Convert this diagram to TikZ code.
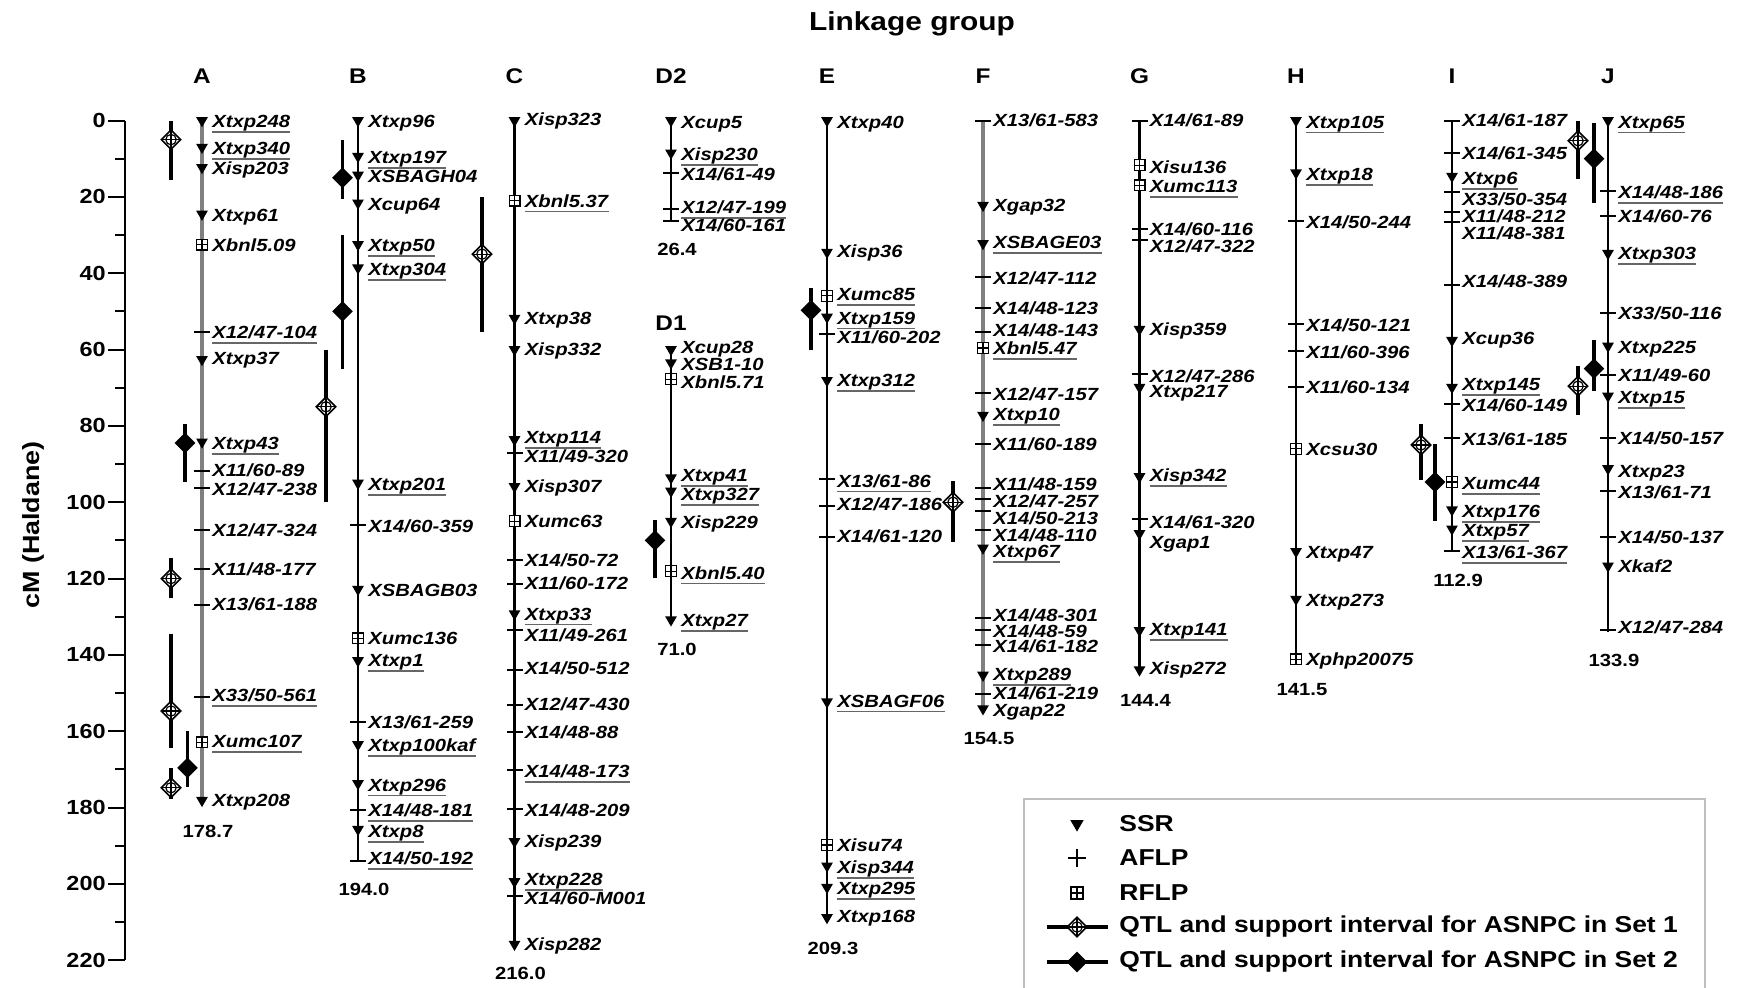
\documentclass[tikz,border=0pt]{standalone}
\usepackage{fontspec}
\setmainfont{Liberation Sans}[FakeStretch=1.15]
\usetikzlibrary{positioning, shapes.geometric}

\tikzset{
  chrom/.style={line width=1.4pt, black},
  chromgray/.style={line width=2.2pt, black!50},
  axis/.style={line width=1pt, black},
  ssr/.style={regular polygon, regular polygon sides=3, shape border rotate=180, fill=black, inner sep=0pt, minimum size=6.8pt},
  aflp/.style={rectangle, fill=black, inner sep=0pt, minimum width=8pt, minimum height=1pt},
  rflp/.style={rectangle, draw=black, fill=white, line width=0.6pt, inner sep=0pt, minimum size=5.4pt,
    path picture={\draw[black, line width=0.6pt] (path picture bounding box.north) -- (path picture bounding box.south)
      (path picture bounding box.west) -- (path picture bounding box.east);}},
  mk/.style={anchor=west, inner sep=0pt, font=\fontsize{8.8}{9}\selectfont\bfseries\itshape, text height=0.72em, text depth=0.2em},
  uline/.style={line width=0.9pt, black!60},
  endlbl/.style={inner sep=0pt, font=\fontsize{8.8}{9}\selectfont\bfseries},
  grp/.style={inner sep=0pt, font=\fontsize{10.6}{11}\selectfont\bfseries},
  ticklbl/.style={anchor=east, inner sep=0pt, font=\fontsize{10.2}{11}\selectfont\bfseries},
  keytxt/.style={anchor=west, inner sep=0pt, font=\fontsize{11.5}{12}\selectfont\bfseries},
  qline/.style={line width=1.6pt, black},
  qone/.style={diamond, draw=black, line width=0.8pt, fill=white, inner sep=0pt, minimum size=10pt,
    path picture={
      \draw[line width=0.6pt] (path picture bounding box.center) circle (2.6pt);
      \draw[line width=0.6pt] (path picture bounding box.west) -- (path picture bounding box.east)
        (path picture bounding box.north) -- (path picture bounding box.south);}},
  qtwo/.style={diamond, fill=black, inner sep=0pt, minimum size=10.5pt},
}

\begin{document}
\begin{tikzpicture}[x=0.5pt, y=-0.5pt]
    \path[use as bounding box, fill=white] (0,0) rectangle (1750,987);

    % Title and axis label
    \node[font=\fontsize{13}{14}\selectfont\bfseries] (title) at (912,24) {Linkage group};
    \node[font=\fontsize{11.7}{12}\selectfont\bfseries, rotate=90] (ylab) at (33,525) {cM (Haldane)};

    % Axis
    \begin{scope}[shift={(125,120.5)}, y={(0,-1.9085pt)}]
        \coordinate (ax-top) at (0,0);
        \coordinate (ax-bot) at (0,220);
        \draw[axis] (ax-top) -- (ax-bot);
        \foreach \t in {10,30,...,210} \draw[axis] (0,\t) -- (-10,\t);
        \foreach \t in {0,20,...,220} {
            \draw[axis] (0,\t) -- (-17,\t);
            \node[ticklbl] (tick-\t) at (-19,\t) {\t};
        }
    \end{scope}

    % Group A
    \begin{scope}[shift={(202,120.5)}, y={(0,-1.9085pt)}]
        \coordinate (A-top) at (0,0);
        \coordinate (A-end) at (0,178.7);
        \node[grp, above=18.4pt of A-top] (A) {A};
        \draw[chromgray] (A-top) -- (A-end);
        \node[endlbl, below=11pt of A-end, xshift=3pt] (A-len) {178.7};
        \foreach \pos/\lab/\kind/\mname/\ul [count=\i] in {
            0/0.5/ssr/Xtxp248/1, 7/7.6/ssr/Xtxp340/1, 12.3/12.9/ssr/Xisp203/0,
            24.5/25.1/ssr/Xtxp61/0, 32.5/33/rflp/{Xbnl5.09}/0, 55.3/55.8/aflp/{X12/47-104}/1,
            62.6/62.6/ssr/Xtxp37/0, 84.2/84.8/ssr/Xtxp43/1, 91.8/91.8/aflp/{X11/60-89}/0,
            96.2/96.8/aflp/{X12/47-238}/0, 107.3/107.6/aflp/{X12/47-324}/0, 117.5/117.8/aflp/{X11/48-177}/0,
            126.9/126.9/aflp/{X13/61-188}/0, 150.9/150.9/aflp/{X33/50-561}/1, 162.9/162.9/rflp/Xumc107/1,
            178.1/178.4/ssr/Xtxp208/0}{
            \node[\kind] (A-m\i) at (0,\pos) {};
            \node[mk] (A-\i) at (10,\lab) {\mname};
            \ifnum\ul=1 \draw[uline] (A-\i.south west) -- (A-\i.south east); \fi
        }
        \foreach \x/\c/\lo/\hi/\s [count=\i] in {-31/5/0/15.5/qone, -17/84.5/79.5/94.7/qtwo,
            -31/120/114.6/125/qone, -31/154.7/134.5/164.3/qone, -14.5/169.6/160/174.6/qtwo,
            -31/174.8/169.6/177.8/qone}{
            \coordinate (A-lo\i) at (\x,\lo);
            \coordinate (A-hi\i) at (\x,\hi);
            \draw[qline] (A-lo\i) -- (A-hi\i);
            \node[\s] (A-q\i) at (\x,\c) {};
        }
    \end{scope}

    % Group B
    \begin{scope}[shift={(358,120.5)}, y={(0,-1.9085pt)}]
        \coordinate (B-top) at (0,0);
        \coordinate (B-end) at (0,194);
        \node[grp, above=18.4pt of B-top] (B) {B};
        \draw[chrom] (B-top) -- (B-end);
        \node[endlbl, below=11pt of B-end, xshift=3pt] (B-len) {194.0};
        \foreach \pos/\lab/\kind/\mname/\ul [count=\i] in {
            0/0.5/ssr/Xtxp96/0, 9.4/10/ssr/Xtxp197/1, 14.3/14.9/ssr/XSBAGH04/0,
            21.6/22.2/ssr/Xcup64/0, 32.5/33/ssr/Xtxp50/1, 38.6/39.2/ssr/Xtxp304/1,
            95/95.6/ssr/Xtxp201/1, 106.1/106.7/aflp/{X14/60-359}/0, 122.8/123.4/ssr/XSBAGB03/0,
            135.7/136/rflp/Xumc136/0, 141.5/141.8/ssr/Xtxp1/1, 157.6/157.9/aflp/{X13/61-259}/0,
            163.5/164/ssr/Xtxp100kaf/1, 173.7/174.3/ssr/Xtxp296/1, 180.7/181/aflp/{X14/48-181}/1,
            185.7/186.5/ssr/Xtxp8/1, 193.9/193.6/aflp/{X14/50-192}/1}{
            \node[\kind] (B-m\i) at (0,\pos) {};
            \node[mk] (B-\i) at (10,\lab) {\mname};
            \ifnum\ul=1 \draw[uline] (B-\i.south west) -- (B-\i.south east); \fi
        }
        \foreach \x/\c/\lo/\hi/\s [count=\i] in {-32/75/60/100/qone, -15.5/15/5/20.5/qtwo,
            -15.5/50/30/65/qtwo}{
            \coordinate (B-lo\i) at (\x,\lo);
            \coordinate (B-hi\i) at (\x,\hi);
            \draw[qline] (B-lo\i) -- (B-hi\i);
            \node[\s] (B-q\i) at (\x,\c) {};
        }
    \end{scope}

    % Group C
    \begin{scope}[shift={(514.5,120.5)}, y={(0,-1.9085pt)}]
        \coordinate (C-top) at (0,0);
        \coordinate (C-end) at (0,216);
        \node[grp, above=18.4pt of C-top] (C) {C};
        \draw[chrom] (C-top) -- (C-end);
        \node[endlbl, below=11pt of C-end, xshift=3pt] (C-len) {216.0};
        \foreach \pos/\lab/\kind/\mname/\ul [count=\i] in {
            0/0/ssr/Xisp323/0, 21/21.3/rflp/{Xbnl5.37}/1, 51.8/52/ssr/Xtxp38/0,
            60/60.2/ssr/Xisp332/0, 83.6/83.3/ssr/Xtxp114/1, 87.1/88.3/aflp/{X11/49-320}/0,
            95.9/96.2/ssr/Xisp307/0, 105/105.3/rflp/Xumc63/0, 115.2/115.5/aflp/{X14/50-72}/0,
            121.3/121.6/aflp/{X11/60-172}/0, 129.2/129.5/ssr/Xtxp33/1, 133.6/135.1/aflp/{X11/49-261}/0,
            143.9/143.9/aflp/{X14/50-512}/0, 153.2/153.2/aflp/{X12/47-430}/0, 160.2/160.5/aflp/{X14/48-88}/0,
            170.2/170.8/aflp/{X14/48-173}/1, 180.4/181/aflp/{X14/48-209}/0, 188.9/189.2/ssr/Xisp239/0,
            199.4/199.1/ssr/Xtxp228/1, 203.2/204.1/aflp/{X14/60-M001}/0, 215.8/216.1/ssr/Xisp282/0}{
            \node[\kind] (C-m\i) at (0,\pos) {};
            \node[mk] (C-\i) at (10,\lab) {\mname};
            \ifnum\ul=1 \draw[uline] (C-\i.south west) -- (C-\i.south east); \fi
        }
        \foreach \x/\c/\lo/\hi/\s [count=\i] in {-32.5/35/20/55.3/qone}{
            \coordinate (C-lo\i) at (\x,\lo);
            \coordinate (C-hi\i) at (\x,\hi);
            \draw[qline] (C-lo\i) -- (C-hi\i);
            \node[\s] (C-q\i) at (\x,\c) {};
        }
    \end{scope}

    % Group D2
    \begin{scope}[shift={(671,120.5)}, y={(0,-1.9085pt)}]
        \coordinate (D2-top) at (0,0);
        \coordinate (D2-end) at (0,26.4);
        \node[grp, above=18.4pt of D2-top] (D2) {D2};
        \draw[chrom] (D2-top) -- (D2-end);
        \node[endlbl, below=11pt of D2-end, xshift=3pt] (D2-len) {26.4};
        \foreach \pos/\lab/\kind/\mname/\ul [count=\i] in {
            0/0.6/ssr/Xcup5/0, 8.5/9.1/ssr/Xisp230/1, 13.7/14.3/aflp/{X14/61-49}/0,
            23.1/23.1/aflp/{X12/47-199}/1, 26.4/27.8/aflp/{X14/60-161}/0}{
            \node[\kind] (D2-m\i) at (0,\pos) {};
            \node[mk] (D2-\i) at (10,\lab) {\mname};
            \ifnum\ul=1 \draw[uline] (D2-\i.south west) -- (D2-\i.south east); \fi
        }
    \end{scope}

    % Group D1
    \begin{scope}[shift={(671,349.5)}, y={(0,-1.9085pt)}]
        \coordinate (D1-top) at (0,0);
        \coordinate (D1-end) at (0,71);
        \node[grp, above=9.2pt of D1-top] (D1) {D1};
        \draw[chrom] (D1-top) -- (D1-end);
        \node[endlbl, below=11pt of D1-end, xshift=3pt] (D1-len) {71.0};
        \foreach \pos/\lab/\kind/\mname/\ul [count=\i] in {
            0/-0.3/ssr/Xcup28/0, 3.5/4.1/ssr/XSB1-10/0, 7.8/8.8/rflp/{Xbnl5.71}/0,
            33.6/33.3/ssr/Xtxp41/1, 37.1/38.3/ssr/Xtxp327/1, 45/45.6/ssr/Xisp229/0,
            58.1/58.8/rflp/{Xbnl5.40}/1, 70.8/71.3/ssr/Xtxp27/1}{
            \node[\kind] (D1-m\i) at (0,\pos) {};
            \node[mk] (D1-\i) at (10,\lab) {\mname};
            \ifnum\ul=1 \draw[uline] (D1-\i.south west) -- (D1-\i.south east); \fi
        }
        \foreach \x/\c/\lo/\hi/\s [count=\i] in {-16/50/44.7/59.9/qtwo}{
            \coordinate (D1-lo\i) at (\x,\lo);
            \coordinate (D1-hi\i) at (\x,\hi);
            \draw[qline] (D1-lo\i) -- (D1-hi\i);
            \node[\s] (D1-q\i) at (\x,\c) {};
        }
    \end{scope}

    % Group E
    \begin{scope}[shift={(827,120.5)}, y={(0,-1.9085pt)}]
        \coordinate (E-top) at (0,0);
        \coordinate (E-end) at (0,209.3);
        \node[grp, above=18.4pt of E-top] (E) {E};
        \draw[chrom] (E-top) -- (E-end);
        \node[endlbl, below=11pt of E-end, xshift=3pt] (E-len) {209.3};
        \foreach \pos/\lab/\kind/\mname/\ul [count=\i] in {
            0/0.6/ssr/Xtxp40/0, 34.5/34.5/ssr/Xisp36/0, 45.9/45.9/rflp/Xumc85/1,
            51.5/52/ssr/Xtxp159/1, 55.8/57/aflp/{X11/60-202}/0, 68.1/68.4/ssr/Xtxp312/1,
            93.9/94.7/aflp/{X13/61-86}/1, 100.9/100.9/aflp/{X12/47-186}/0, 109.1/109.1/aflp/{X14/61-120}/0,
            152.3/152.3/ssr/XSBAGF06/1, 189.8/190.1/rflp/Xisu74/0, 195.3/195.9/ssr/Xisp344/1,
            200.9/201.5/ssr/Xtxp295/1, 208.8/208.8/ssr/Xtxp168/0}{
            \node[\kind] (E-m\i) at (0,\pos) {};
            \node[mk] (E-\i) at (10,\lab) {\mname};
            \ifnum\ul=1 \draw[uline] (E-\i.south west) -- (E-\i.south east); \fi
        }
        \foreach \x/\c/\lo/\hi/\s [count=\i] in {-16/49.7/43.9/60/qtwo}{
            \coordinate (E-lo\i) at (\x,\lo);
            \coordinate (E-hi\i) at (\x,\hi);
            \draw[qline] (E-lo\i) -- (E-hi\i);
            \node[\s] (E-q\i) at (\x,\c) {};
        }
    \end{scope}

    % Group F
    \begin{scope}[shift={(983,120.5)}, y={(0,-1.9085pt)}]
        \coordinate (F-top) at (0,0);
        \coordinate (F-end) at (0,154.5);
        \node[grp, above=18.4pt of F-top] (F) {F};
        \draw[chromgray] (F-top) -- (F-end);
        \node[endlbl, below=11pt of F-end, xshift=3pt] (F-len) {154.5};
        \foreach \pos/\lab/\kind/\mname/\ul [count=\i] in {
            0/0.3/aflp/{X13/61-583}/0, 22.2/22.5/ssr/Xgap32/0, 32.2/32.2/ssr/XSBAGE03/1,
            40.9/41.5/aflp/{X12/47-112}/0, 49.1/49.4/aflp/{X14/48-123}/0, 55.3/55.3/aflp/{X14/48-143}/0,
            59.6/59.9/rflp/{Xbnl5.47}/1, 71.3/71.9/aflp/{X12/47-157}/0, 77.2/77.2/ssr/Xtxp10/1,
            84.8/85.1/aflp/{X11/60-189}/0, 96.2/95.6/aflp/{X11/48-159}/0, 99.1/100/aflp/{X12/47-257}/0,
            102.3/104.4/aflp/{X14/50-213}/0, 107.3/108.8/aflp/{X14/48-110}/0, 112/113.2/ssr/Xtxp67/1,
            130.4/129.8/aflp/{X14/48-301}/0, 133.6/134.2/aflp/{X14/48-59}/0, 137.4/138/aflp/{X14/61-182}/0,
            145.3/145.3/ssr/Xtxp289/1, 150.3/150.3/aflp/{X14/61-219}/0, 154.1/154.7/ssr/Xgap22/0}{
            \node[\kind] (F-m\i) at (0,\pos) {};
            \node[mk] (F-\i) at (10,\lab) {\mname};
            \ifnum\ul=1 \draw[uline] (F-\i.south west) -- (F-\i.south east); \fi
        }
        \foreach \x/\c/\lo/\hi/\s [count=\i] in {-30/100/94.4/110.5/qone}{
            \coordinate (F-lo\i) at (\x,\lo);
            \coordinate (F-hi\i) at (\x,\hi);
            \draw[qline] (F-lo\i) -- (F-hi\i);
            \node[\s] (F-q\i) at (\x,\c) {};
        }
    \end{scope}

    % Group G
    \begin{scope}[shift={(1139.5,120.5)}, y={(0,-1.9085pt)}]
        \coordinate (G-top) at (0,0);
        \coordinate (G-end) at (0,144.4);
        \node[grp, above=18.4pt of G-top] (G) {G};
        \draw[chrom] (G-top) -- (G-end);
        \node[endlbl, below=11pt of G-end, xshift=3pt] (G-len) {144.4};
        \foreach \pos/\lab/\kind/\mname/\ul [count=\i] in {
            0/0.3/aflp/{X14/61-89}/0, 11.7/12.6/rflp/Xisu136/0, 17/17.5/rflp/Xumc113/1,
            28.4/28.7/aflp/{X14/60-116}/0, 31.3/33.3/aflp/{X12/47-322}/0, 54.7/55/ssr/Xisp359/0,
            66.4/67.3/aflp/{X12/47-286}/0, 69.9/71.3/ssr/Xtxp217/0, 93.3/93.3/ssr/Xisp342/1,
            104.4/105.6/aflp/{X14/61-320}/0, 108.2/110.8/ssr/Xgap1/0, 133.6/133.6/ssr/Xtxp141/1,
            143.9/143.9/ssr/Xisp272/0}{
            \node[\kind] (G-m\i) at (0,\pos) {};
            \node[mk] (G-\i) at (10,\lab) {\mname};
            \ifnum\ul=1 \draw[uline] (G-\i.south west) -- (G-\i.south east); \fi
        }
    \end{scope}

    % Group H
    \begin{scope}[shift={(1296,120.5)}, y={(0,-1.9085pt)}]
        \coordinate (H-top) at (0,0);
        \coordinate (H-end) at (0,141.5);
        \node[grp, above=18.4pt of H-top] (H) {H};
        \draw[chrom] (H-top) -- (H-end);
        \node[endlbl, below=11pt of H-end, xshift=3pt] (H-len) {141.5};
        \foreach \pos/\lab/\kind/\mname/\ul [count=\i] in {
            0/0.6/ssr/Xtxp105/1, 13.7/14.3/ssr/Xtxp18/1, 26.3/26.9/aflp/{X14/50-244}/0,
            53.2/53.8/aflp/{X14/50-121}/0, 60.5/61.1/aflp/{X11/60-396}/0, 69.9/70.2/aflp/{X11/60-134}/0,
            86/86.3/rflp/Xcsu30/0, 112.9/113.5/ssr/Xtxp47/0, 125.4/126/ssr/Xtxp273/0,
            141.2/141.5/rflp/Xphp20075/0}{
            \node[\kind] (H-m\i) at (0,\pos) {};
            \node[mk] (H-\i) at (10,\lab) {\mname};
            \ifnum\ul=1 \draw[uline] (H-\i.south west) -- (H-\i.south east); \fi
        }
    \end{scope}

    % Group I
    \begin{scope}[shift={(1452,120.5)}, y={(0,-1.9085pt)}]
        \coordinate (I-top) at (0,0);
        \coordinate (I-end) at (0,112.9);
        \node[grp, above=18.4pt of I-top] (I) {I};
        \draw[chrom] (I-top) -- (I-end);
        \node[endlbl, below=11pt of I-end, xshift=3pt] (I-len) {112.9};
        \foreach \pos/\lab/\kind/\mname/\ul [count=\i] in {
            0/0.3/aflp/{X14/61-187}/0, 8.5/8.8/aflp/{X14/61-345}/0, 14.6/15.5/ssr/Xtxp6/1,
            18.7/20.8/aflp/{X33/50-354}/0, 24/25.4/aflp/{X11/48-212}/0, 26.6/29.8/aflp/{X11/48-381}/0,
            43/42.4/aflp/{X14/48-389}/0, 57.6/57.3/ssr/Xcup36/0, 69.9/69.3/ssr/Xtxp145/1,
            74.3/74.9/aflp/{X14/60-149}/0, 83.3/83.9/aflp/{X13/61-185}/0, 94.7/95.3/rflp/Xumc44/1,
            102/102.6/ssr/Xtxp176/1, 107/107.6/ssr/Xtxp57/1, 112.9/113.5/aflp/{X13/61-367}/1}{
            \node[\kind] (I-m\i) at (0,\pos) {};
            \node[mk] (I-\i) at (10,\lab) {\mname};
            \ifnum\ul=1 \draw[uline] (I-\i.south west) -- (I-\i.south east); \fi
        }
        \foreach \x/\c/\lo/\hi/\s [count=\i] in {-31/85/79.5/94.2/qone, -17/94.7/84.8/105/qtwo}{
            \coordinate (I-lo\i) at (\x,\lo);
            \coordinate (I-hi\i) at (\x,\hi);
            \draw[qline] (I-lo\i) -- (I-hi\i);
            \node[\s] (I-q\i) at (\x,\c) {};
        }
    \end{scope}

    % Group J
    \begin{scope}[shift={(1608,120.5)}, y={(0,-1.9085pt)}]
        \coordinate (J-top) at (0,0);
        \coordinate (J-end) at (0,133.9);
        \node[grp, above=18.4pt of J-top] (J) {J};
        \draw[chrom] (J-top) -- (J-end);
        \node[endlbl, below=11pt of J-end, xshift=3pt] (J-len) {133.9};
        \foreach \pos/\lab/\kind/\mname/\ul [count=\i] in {
            0/0.6/ssr/Xtxp65/1, 18.4/19/aflp/{X14/48-186}/1, 25.1/25.4/aflp/{X14/60-76}/0,
            34.8/35.1/ssr/Xtxp303/1, 50.3/50.9/aflp/{X33/50-116}/0, 59.1/59.6/ssr/Xtxp225/0,
            66.7/67/aflp/{X11/49-60}/0, 72.2/72.8/ssr/Xtxp15/1, 83.3/83.6/aflp/{X14/50-157}/0,
            91.2/92.1/ssr/Xtxp23/0, 97.1/97.7/aflp/{X13/61-71}/0, 109.1/109.4/aflp/{X14/50-137}/0,
            116.7/117/ssr/Xkaf2/0, 133.6/133/aflp/{X12/47-284}/0}{
            \node[\kind] (J-m\i) at (0,\pos) {};
            \node[mk] (J-\i) at (10,\lab) {\mname};
            \ifnum\ul=1 \draw[uline] (J-\i.south west) -- (J-\i.south east); \fi
        }
        \foreach \x/\c/\lo/\hi/\s [count=\i] in {-30/5.3/0/15.2/qone, -14/10/0.6/21.6/qtwo,
            -30/69.6/64.3/77.2/qone, -14/65/57.6/70.8/qtwo}{
            \coordinate (J-lo\i) at (\x,\lo);
            \coordinate (J-hi\i) at (\x,\hi);
            \draw[qline] (J-lo\i) -- (J-hi\i);
            \node[\s] (J-q\i) at (\x,\c) {};
        }
    \end{scope}

    % Legend
    \draw[black!25, line width=0.6pt] (1024,799) rectangle (1705,1010);
    \node[ssr, minimum size=7.6pt] (key-ssr) at (1077,824) {};
    \node[keytxt] (key-ssr-t) at (1119,824) {SSR};
    \coordinate (key-aflp) at (1077,858);
    \draw[line width=0.8pt] (key-aflp) ++(0,-9) -- ++(0,18) (key-aflp) ++(-9,0) -- ++(18,0);
    \node[keytxt] (key-aflp-t) at (1119,858) {AFLP};
    \node[rflp, minimum size=6pt] (key-rflp) at (1077,893) {};
    \node[keytxt] (key-rflp-t) at (1119,893) {RFLP};
    \coordinate (key-q1-l) at (1047,927);
    \coordinate (key-q1-r) at (1108,927);
    \draw[qline] (key-q1-l) -- (key-q1-r);
    \node[qone] (key-q1) at (1077,927) {};
    \node[keytxt] (key-q1-t) at (1119,927) {QTL and support interval for ASNPC in Set 1};
    \coordinate (key-q2-l) at (1047,962);
    \coordinate (key-q2-r) at (1108,962);
    \draw[qline] (key-q2-l) -- (key-q2-r);
    \node[qtwo] (key-q2) at (1077,962) {};
    \node[keytxt] (key-q2-t) at (1119,962) {QTL and support interval for ASNPC in Set 2};
\end{tikzpicture}
\end{document}
